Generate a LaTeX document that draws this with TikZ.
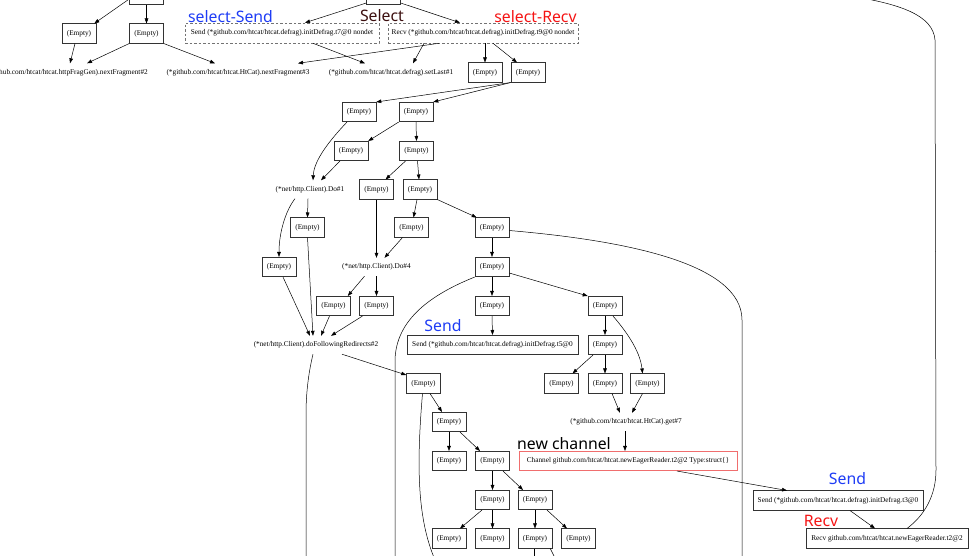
\documentclass[tikz,border=0pt]{standalone}
\usepackage{fontspec}
\setmainfont{Liberation Serif}
\newfontfamily\labfont{Noto Sans}
\usetikzlibrary{arrows.meta,calc}
\definecolor{selblue}{RGB}{30,60,245}
\definecolor{selred}{RGB}{245,20,20}
\definecolor{selmaroon}{RGB}{60,15,15}
\definecolor{chanred}{RGB}{240,110,110}
\begin{document}
\begin{tikzpicture}[x=1pt,y=-1pt,
  small/.style={font={\fontsize{7.3pt}{8pt}\selectfont}},
  emp/.style={small,draw=black!80,line width=0.55pt,minimum width=34pt,minimum height=19.5pt,inner sep=0pt},
  wide/.style={emp,minimum width=#1},
  dbox/.style={small,draw=black!55,dash pattern=on 2.5pt off 2pt,line width=0.55pt,minimum width=#1,minimum height=20pt,inner sep=0pt},
  txt/.style={small,minimum height=18pt,inner sep=0pt},
  lab/.style={font={\labfont\fontsize{15.8pt}{18pt}\selectfont},inner sep=0pt,anchor=base},
  arr/.style={line width=0.5pt,-{Triangle[length=5pt,width=3.6pt]}},
  ln/.style={line width=0.5pt},
]
\path[use as bounding box] (0,0) rectangle (978,555);
\clip (0,0) rectangle (978,555);
% top row
\node[emp] (tl) at (146.5,-5) {};
\node[emp] (sel) at (383.5,-5) {};
\node[emp] (eA) at (79,33.5) {(Empty)};
\node[emp] (eB) at (146.5,33.5) {(Empty)};
\node[dbox=194pt] (send7) at (282,33) {Send (*github.com/htcat/htcat.defrag).initDefrag.t7@0 nondet};
\node[dbox=190pt] (recv9) at (483,33) {Recv (*github.com/htcat/htcat.defrag).initDefrag.t9@0 nondet};
\node[txt,anchor=east] (nf2) at (148,72.5) {(*github.com/htcat/htcat.httpFragGen).nextFragment\#2};
\node[txt] (nf3) at (238,72.5) {(*github.com/htcat/htcat.HtCat).nextFragment\#3};
\node[txt] (setl) at (391,72.5) {(*github.com/htcat/htcat.defrag).setLast\#1};
\node[emp] (eC) at (485,72.5) {(Empty)};
\node[emp] (eD) at (528,72.5) {(Empty)};
\node[emp] (eE) at (359,112) {(Empty)};
\node[emp] (eF) at (416,112) {(Empty)};
\node[emp] (eG) at (351,151) {(Empty)};
\node[emp] (eH) at (416.5,151) {(Empty)};
\node[txt] (do1) at (310,189.5) {(*net/http.Client).Do\#1};
\node[emp] (eI) at (376.5,189.5) {(Empty)};
\node[emp] (eJ) at (420,189.5) {(Empty)};
\node[emp] (eK) at (307.5,227.5) {(Empty)};
\node[emp] (eL) at (411.5,227.5) {(Empty)};
\node[emp] (eM) at (492,227.5) {(Empty)};
\node[emp] (eN) at (279,267) {(Empty)};
\node[txt] (do4) at (376.5,267) {(*net/http.Client).Do\#4};
\node[emp] (eO) at (492,267) {(Empty)};
\node[emp] (eP) at (333.5,306) {(Empty)};
\node[emp] (eQ) at (376.5,306) {(Empty)};
\node[emp] (eR) at (492,306) {(Empty)};
\node[emp] (eS) at (605,306) {(Empty)};
\node[txt] (doF) at (316,345) {(*net/http.Client).doFollowingRedirects\#2};
\node[wide=171pt] (send5) at (492.5,345) {Send (*github.com/htcat/htcat.defrag).initDefrag.t5@0};
\node[emp] (eT) at (605,345) {(Empty)};
\node[emp] (eX) at (423.5,383.5) {(Empty)};
\node[emp] (eU) at (561.5,383.5) {(Empty)};
\node[emp] (eV) at (605,383.5) {(Empty)};
\node[emp] (eW) at (647.5,383.5) {(Empty)};
\node[emp] (eY) at (449,422) {(Empty)};
\node[txt] (get7) at (626,422) {(*github.com/htcat/htcat.HtCat).get\#7};
\node[emp] (eZ) at (449,461) {(Empty)};
\node[emp] (eAA) at (492.5,461) {(Empty)};
\node[wide=218pt,draw=chanred] (chan) at (628,461) {Channel github.com/htcat/htcat.newEagerReader.t2@2 Type:struct\{\}};
\node[emp] (eAB) at (492.5,500) {(Empty)};
\node[emp] (eAC) at (535,500) {(Empty)};
\node[wide=170pt] (send3) at (838,500.5) {Send (*github.com/htcat/htcat.defrag).initDefrag.t3@0};
\node[emp] (eAD) at (449,538.5) {(Empty)};
\node[emp] (eAE) at (492.5,538.5) {(Empty)};
\node[emp] (eAF) at (535,538.5) {(Empty)};
\node[emp] (eAG) at (578.5,538.5) {(Empty)};
\node[wide=162pt] (recv) at (887,538.5) {Recv github.com/htcat/htcat.newEagerReader.t2@2};
% free ends
\coordinate (mbot) at (742,560);
\coordinate (obot) at (395,560);
\coordinate (fbot) at (306,560);
\coordinate (xbot) at (435,560);
\coordinate (fb1) at (534,560);
\coordinate (fb2) at (556,560);
\coordinate (rtop) at (850,-4);
% labels
\node[lab,text=selblue] (lss) at (230.5,22) {select-Send};
\node[lab,text=selmaroon] (lsel) at (382,21) {Select};
\node[lab,text=selred] (lsr) at (535.5,22) {select-Recv};
\node[lab,text=selblue] (ls5) at (443,331) {Send};
\node[lab] (lnc) at (564,449) {new channel};
\node[lab,text=selblue] (ls3) at (847.5,484) {Send};
\node[lab,text=selred] (lrv) at (821,526) {Recv};
% edges
\draw[arr] ([yshift=-4pt]tl.west) -- ([xshift=-2pt]eA.north east);
\draw[arr] (tl.south) -- (eB.north);
\draw[arr] ([xshift=-4pt]eA.south) -- ([xshift=-78pt]nf2.north east);
\draw[arr] (eB.south west) -- ([xshift=-61pt]nf2.north east);
\draw[arr] (eB.south east) -- ([xshift=-23pt]nf3.north);
\draw[arr] ([xshift=-44pt]recv9.south) -- ([xshift=60pt]nf3.north);
\draw[arr] ([xshift=31pt]send7.south) -- ([xshift=-26pt]setl.north);
\draw[arr] ([xshift=-59pt]recv9.south) -- ([xshift=22pt]setl.north);
\draw[arr] ([yshift=2pt]sel.south west) -- ([xshift=23pt]send7.north);
\draw[arr] ([yshift=2pt]sel.south east) -- ([xshift=-23pt]recv9.north);
\draw[arr] ([xshift=2pt]recv9.south) -- (eC.north);
\draw[arr] ([xshift=10pt]recv9.south) -- ([xshift=-11pt]eD.north);
\draw[arr] (eD.south west) -- (eE.north east);
\draw[arr] (eD.south west) -- (eF.north east);
\draw[arr] ([xshift=-12pt]eE.south) .. controls (330,140) and (314,160) .. ([xshift=3pt]do1.north);
\draw[arr] (eF.south west) -- (eG.north east);
\draw[arr] (eF.south) -- (eH.north);
\draw[arr] ([xshift=-11pt]eG.south) -- ([xshift=11pt]do1.north);
\draw[arr] ([xshift=-11pt]eH.south) -- ([xshift=9pt]eI.north);
\draw[arr] ([xshift=1pt]eH.south) -- ([xshift=-1pt]eJ.north);
\draw[arr] ([xshift=-2pt]do1.south) -- (eK.north);
\draw[arr] ([xshift=-15pt]do1.south) .. controls (286,210) and (279,232) .. (eN.north);
\draw[arr] ([xshift=-3pt]eJ.south) -- ([xshift=2pt]eL.north);
\draw[arr] (eJ.south east) -- ([xshift=2pt]eM.north west);
\draw[arr] (eI.south) -- (do4.north);
\draw[arr] ([xshift=-9pt]eL.south) -- ([xshift=8pt]do4.north);
\draw[arr] (eM.south) -- (eO.north);
\draw[ln] ([yshift=-3pt]eM.east) .. controls (620,240) and (742,262) .. (742,320) -- (mbot);
\draw[arr] (eO.south) -- (eR.north);
\draw[arr] ([yshift=-6pt]eO.east) -- (eS.north west);
\draw[ln] (eO.south west) .. controls (430,295) and (396,320) .. (395,360) -- (obot);
\draw[arr] (eK.south) -- ([xshift=-3pt]doF.north);
\draw[arr] ([xshift=4pt]eN.south) -- ([xshift=-6pt]doF.north);
\draw[arr] ([xshift=-4pt]eP.south) -- ([xshift=5pt]doF.north);
\draw[arr] ([xshift=-14pt]eQ.south) -- ([xshift=15pt]doF.north);
\draw[arr] ([xshift=-12pt]do4.south) -- ([xshift=-3pt]eP.north east);
\draw[arr] (do4.south) -- (eQ.north);
\draw[arr] (eR.south) -- (send5.north);
\draw[arr] (eS.south) -- (eT.north);
\draw[arr] ([xshift=8pt]eS.south) .. controls (625,330) and (640,350) .. ([xshift=-5pt]eW.north);
\draw[arr] ([xshift=-12pt]eT.south) -- ([xshift=11pt]eU.north);
\draw[arr] (eT.south) -- (eV.north);
\draw[arr] ([xshift=7pt]eV.south) -- ([xshift=-6pt]get7.north);
\draw[arr] ([xshift=-5pt]eW.south) -- ([xshift=6pt]get7.north);
\draw[arr] ([xshift=-1pt]get7.south) -- ([xshift=-3pt]chan.north);
\draw[arr] ([xshift=49pt]chan.south) -- ([xshift=-51pt]send3.north);
\draw[arr] ([xshift=12pt]send3.south) -- ([xshift=-12pt]recv.north);
\draw[ln] ([xshift=20pt]recv.north) .. controls (925,515) and (936,495) .. (936,470) -- (935,40) .. controls (933,15) and (900,4) .. (rtop);
\draw[arr] ([xshift=26pt]doF.south) -- ([yshift=-1.5pt]eX.north west);
\draw[ln] ([xshift=-3pt]doF.south) .. controls (308,375) and (306,395) .. (306,415) -- (fbot);
\draw[arr] ([xshift=6.5pt]eX.south) -- ([xshift=-7pt]eY.north);
\draw[ln] ([xshift=-1pt]eX.south) .. controls (416,470) and (418,520) .. (xbot);
\draw[arr] (eY.south) -- (eZ.north);
\draw[arr] ([xshift=11pt]eY.south) -- ([xshift=-12.5pt]eAA.north);
\draw[arr] (eAA.south) -- (eAB.north);
\draw[arr] ([xshift=10.5pt]eAA.south) -- ([xshift=-12pt]eAC.north);
\draw[arr] ([xshift=-10.5pt]eAB.south) -- ([xshift=11pt]eAD.north);
\draw[arr] (eAB.south) -- (eAE.north);
\draw[arr] (eAC.south) -- (eAF.north);
\draw[arr] ([xshift=12pt]eAC.south) -- ([xshift=-11.5pt]eAG.north);
\draw[ln] ([xshift=-1pt]eAF.south) -- (fb1);
\draw[ln] ([xshift=-2pt]eAF.south east) -- (fb2);
\end{tikzpicture}
\end{document}
